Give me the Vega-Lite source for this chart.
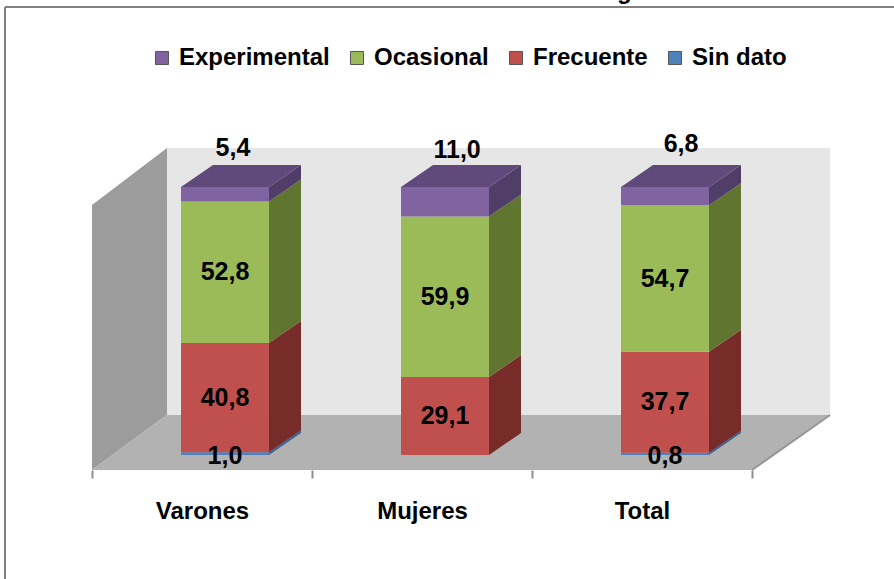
{
"$schema":"https://vega.github.io/schema/vega-lite/v6.json",
"width":894,"height":470,
"autosize":"none",
"padding":{"left":0,"top":0,"right":0,"bottom":109},
"background":"white",
"view":{"stroke":null},
"config":{"font":"Liberation Sans"},
"data":{"values":[
{"grupo":"Varones","categoria":"Sin dato","valor":1.0},
{"grupo":"Varones","categoria":"Frecuente","valor":40.8},
{"grupo":"Varones","categoria":"Ocasional","valor":52.8},
{"grupo":"Varones","categoria":"Experimental","valor":5.4},
{"grupo":"Mujeres","categoria":"Frecuente","valor":29.1},
{"grupo":"Mujeres","categoria":"Ocasional","valor":59.9},
{"grupo":"Mujeres","categoria":"Experimental","valor":11.0},
{"grupo":"Total","categoria":"Sin dato","valor":0.8},
{"grupo":"Total","categoria":"Frecuente","valor":37.7},
{"grupo":"Total","categoria":"Ocasional","valor":54.7},
{"grupo":"Total","categoria":"Experimental","valor":6.8}
]},
"transform":[
{"calculate":"indexof(['Experimental','Ocasional','Frecuente','Sin dato'],datum.categoria)","as":"orden"},
{"calculate":"indexof(['Varones','Mujeres','Total'],datum.grupo)","as":"i"},
{"stack":"valor","groupby":["grupo"],"sort":[{"field":"orden","order":"descending"}],"as":["v0","v1"]}
],
"encoding":{
"x":{"field":"x","type":"quantitative","title":null,"scale":{"domain":[-0.41818,3.64545],"nice":false,"zero":false},
"axis":{"values":[0,1,2,3],"domain":false,"grid":false,"title":null,"tickColor":"#8C8C8C","tickSize":8,"tickWidth":2,"labelExpr":"datum.value<3?['Varones','Mujeres','Total'][datum.value]:''","labelOffset":110,"labelPadding":21,"labelFontSize":24,"labelFontWeight":"bold","labelColor":"#000000","labelFont":"Liberation Sans","labelBound":false,"labelFlush":false,"labelOverlap":false}},
"y":{"field":"y","type":"quantitative","title":null,"axis":null,"scale":{"domain":[-5.597,169.776],"nice":false,"zero":false}}
},
"resolve":{"scale":{"color":"independent"}},
"layer":[
{"data":{"values":[{"plano":"fondo"}]},
 "transform":[{"calculate":"0.341","as":"x"},{"calculate":"3.355","as":"x2"},{"calculate":"14.93","as":"y"},{"calculate":"114.55","as":"y2"}],
 "mark":{"type":"rect","fill":"#E6E6E6"},
 "encoding":{"x2":{"field":"x2"},"y2":{"field":"y2"}}},
{"data":{"values":[{"depth":0},{"depth":1}]},
 "transform":[{"calculate":"datum.depth*0.341","as":"x"},{"calculate":"-5.597+datum.depth*20.52","as":"y"},{"calculate":"93.28+datum.depth*21.27","as":"y2"}],
 "mark":{"type":"area","orient":"vertical","fill":"#9C9C9C"},
 "encoding":{"y2":{"field":"y2"}}},
{"data":{"values":[{"depth":0},{"depth":1}]},
 "transform":[{"calculate":"datum.depth*0.341","as":"x"},{"calculate":"3+datum.depth*0.355","as":"x2"},{"calculate":"-5.597+datum.depth*20.52","as":"y"}],
 "mark":{"type":"area","orient":"horizontal","fill":"#B2B2B2","line":false},
 "encoding":{"x2":{"field":"x2"}}},
{"data":{"values":[{"depth":0},{"depth":1}]},
 "transform":[{"calculate":"3+datum.depth*0.355","as":"x"},{"calculate":"-5.597+datum.depth*20.52","as":"y"}],
 "mark":{"type":"line","stroke":"#969696","strokeWidth":2},
 "encoding":{}},
{"data":{"values":[{"borde":"arriba"}]},
 "transform":[{"calculate":"-0.3955","as":"x"},{"calculate":"3.64545","as":"x2"},{"calculate":"167.16","as":"y"}],
 "mark":{"type":"rule","stroke":"#808080","strokeWidth":2},
 "encoding":{"x2":{"field":"x2"}}},
{"data":{"values":[{"borde":"izquierda"}]},
 "transform":[{"calculate":"-0.3955","as":"x"},{"calculate":"167.16","as":"y"},{"calculate":"-46.3","as":"y2"}],
 "mark":{"type":"rule","stroke":"#808080","strokeWidth":2},
 "encoding":{"y2":{"field":"y2"}}},
{"data":{"values":[{"titulo":"g"}]},
 "transform":[{"calculate":"2.42","as":"x"},{"calculate":"170.1","as":"y"}],
 "mark":{"type":"text","fontSize":24,"fontWeight":"bold","baseline":"alphabetic","align":"center","color":"#000000"},
 "encoding":{"text":{"field":"titulo"}}},
{"transform":[
 {"calculate":"[0,1]","as":"depth"},{"flatten":["depth"]},
 {"calculate":"datum.i+0.8045+datum.depth*0.1455","as":"x"},
 {"calculate":"datum.v0+datum.depth*8.21","as":"y"},
 {"calculate":"datum.v1+datum.depth*8.21","as":"y2"}],
 "mark":{"type":"area","orient":"vertical"},
 "encoding":{"y2":{"field":"y2"},"detail":[{"field":"grupo"},{"field":"categoria"}],
 "color":{"field":"categoria","legend":null,"scale":{"domain":["Experimental","Ocasional","Frecuente","Sin dato"],"range":["#503E68","#5F7530","#772C2A","#3A6599"]}}}},
{"transform":[
 {"filter":"datum.categoria=='Experimental'"},
 {"calculate":"[0,1]","as":"depth"},{"flatten":["depth"]},
 {"calculate":"datum.i+0.4045+datum.depth*0.1455","as":"x"},
 {"calculate":"datum.i+0.8045+datum.depth*0.1455","as":"x2"},
 {"calculate":"datum.v1+datum.depth*8.21","as":"y"}],
 "mark":{"type":"area","orient":"horizontal","fill":"#604A7B"},
 "encoding":{"x2":{"field":"x2"},"detail":{"field":"grupo"}}},
{"transform":[
 {"calculate":"datum.i+0.4045","as":"x"},
 {"calculate":"datum.i+0.8045","as":"x2"},
 {"calculate":"datum.v0","as":"y"},
 {"calculate":"datum.v1","as":"y2"}],
 "mark":{"type":"rect"},
 "encoding":{"x2":{"field":"x2"},"y2":{"field":"y2"},
 "color":{"field":"categoria","type":"nominal","title":null,
 "scale":{"domain":["Experimental","Ocasional","Frecuente","Sin dato"],"range":["#8064A2","#9BBB59","#C0504D","#4F81BD"]},
 "legend":{"orient":"none","legendX":150,"legendY":46,"direction":"horizontal","columns":4,"symbolType":"square","symbolSize":170,"symbolStrokeColor":"#555555","symbolStrokeWidth":1,"labelFontSize":24,"labelFontWeight":"bold","labelColor":"#000000","labelFont":"Liberation Sans","labelOffset":5,"columnPadding":15,"labelLimit":300,"gridAlign":"each","values":["Experimental","Ocasional","Frecuente","Sin dato"]}}}},
{"transform":[
 {"calculate":"datum.i+0.6045+(datum.categoria=='Experimental'?[0.036,0.055,0.073][datum.i]:0)","as":"x"},
 {"calculate":"datum.categoria=='Experimental'?[114.6,113.8,116][datum.i]:datum.categoria=='Sin dato'?-0.2:(datum.v0+datum.v1)/2","as":"y"},
 {"calculate":"replace(format(datum.valor,'.1f'),'.',',')","as":"etiqueta"}],
 "mark":{"type":"text","fontSize":25,"fontWeight":"bold","align":"center","baseline":"middle","color":"#000000"},
 "encoding":{"text":{"field":"etiqueta"}}}
]
}
